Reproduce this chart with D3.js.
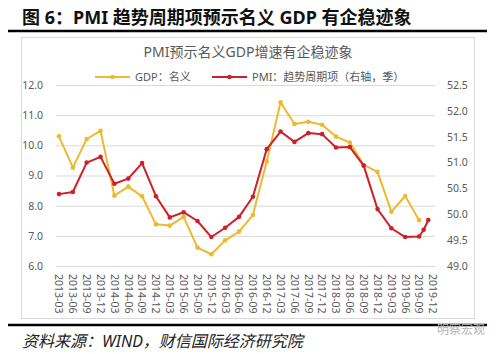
<!DOCTYPE html>
<html>
<head>
<meta charset="utf-8">
<script src="https://cdn.jsdelivr.net/npm/d3@7"></script>
<style>
  body { margin: 0; background: #fff; }
  text { font-family: "Noto Sans", "Noto Sans CJK SC", sans-serif; }
</style>
</head>
<body>
<div id="wrapper"></div>
<script>
// quarter labels on the x axis
const quarters = ["2013-03","2013-06","2013-09","2013-12","2014-03","2014-06","2014-09","2014-12",
  "2015-03","2015-06","2015-09","2015-12","2016-03","2016-06","2016-09","2016-12",
  "2017-03","2017-06","2017-09","2017-12","2018-03","2018-06","2018-09","2018-12",
  "2019-03","2019-06","2019-09","2019-12"] ;

// GDP: nominal growth (left axis), 2013-03 .. 2019-09
const gdpDates = quarters.slice(0, 27) ;
const gdpValues = [10.3, 9.26, 10.21, 10.48, 8.33, 8.63, 8.31, 7.38, 7.34, 7.63, 6.61, 6.39, 6.85, 7.14,
  7.69, 9.46, 11.43, 10.71, 10.78, 10.68, 10.29, 10.09, 9.35, 9.12, 7.80, 8.32, 7.52] ;

// PMI trend-cycle term (right axis), quarterly then monthly at the end
const pmiDates = quarters.slice(0, 27).concat(["2019-10", "2019-11"]) ;
const pmiValues = [50.39, 50.43, 51.0, 51.11, 50.59, 50.69, 50.99, 50.35, 49.94, 50.04, 49.87, 49.56, 49.74, 49.95,
  50.34, 51.26, 51.60, 51.40, 51.57, 51.55, 51.29, 51.30, 50.94, 50.10, 49.73, 49.56, 49.57, 49.70, 49.89] ;

const leftTicks = [6, 7, 8, 9, 10, 11, 12] ;
const rightTicks = [49, 49.5, 50, 50.5, 51, 51.5, 52, 52.5] ;

const gold = "#EDB92E" ;
const red = "#CF1F28" ;
const grey = "#595959" ;

// month index counted from 2013-03
function monthIndex(s) {
  const [y, m] = s.split("-").map(Number) ;
  return (y - 2013) * 12 + (m - 3) ;
}

const dims = {
  width: 500,
  height: 354,
  plot: { left: 56, right: 435, top: 85, bottom: 266 },
} ;

const svg = d3.select("#wrapper").append("svg")
  .attr("width", dims.width)
  .attr("height", dims.height) ;

// page title and rules
svg.append("text")
  .attr("x", 22).attr("y", 24)
  .attr("font-family", "'Liberation Serif', 'Noto Sans CJK SC', serif")
  .attr("font-weight", "bold")
  .attr("font-size", 18)
  .attr("fill", "#111")
  .text("图 6：PMI 趋势周期项预示名义 GDP 有企稳迹象") ;

svg.append("rect")
  .attr("x", 21.5).attr("y", 37.5)
  .attr("width", 453).attr("height", 281)
  .attr("fill", "none")
  .attr("stroke", "#d9d9d9") ;

[31, 325].forEach(y => {
  svg.append("line")
    .attr("x1", 8).attr("x2", 487)
    .attr("y1", y).attr("y2", y)
    .attr("stroke", "#000")
    .attr("stroke-width", 2.5) ;
}) ;

svg.append("text")
  .attr("x", 22).attr("y", 347)
  .attr("font-family", "'Liberation Serif', 'Noto Sans CJK SC', serif")
  .attr("font-style", "italic")
  .attr("font-size", 16)
  .attr("fill", "#222")
  .text("资料来源：WIND，财信国际经济研究院") ;

svg.append("text")
  .attr("x", 485).attr("y", 334)
  .attr("text-anchor", "end")
  .attr("font-size", 12)
  .attr("fill", "#b5b5b5")
  .text("明察宏观") ;

// chart title
svg.append("text")
  .attr("x", 248).attr("y", 57)
  .attr("text-anchor", "middle")
  .attr("font-family", "'Noto Sans CJK SC', sans-serif")
  .attr("font-size", 14)
  .attr("fill", grey)
  .text("PMI预示名义GDP增速有企稳迹象") ;

// scales
const xScale = d3.scaleLinear()
  .domain([-0.65, 81.45])
  .range([dims.plot.left, dims.plot.right]) ;

const yLeft = d3.scaleLinear()
  .domain([6, 12])
  .range([dims.plot.bottom, dims.plot.top]) ;

const yRight = d3.scaleLinear()
  .domain([49, 52.5])
  .range([dims.plot.bottom, dims.plot.top]) ;

// gridlines (left axis)
const leftAxis = svg.append("g")
  .attr("transform", `translate(${dims.plot.left},0)`)
  .call(d3.axisLeft(yLeft).tickValues(leftTicks).tickFormat(d3.format(".1f"))
    .tickSize(-(dims.plot.right - dims.plot.left)).tickPadding(13)) ;
leftAxis.select(".domain").remove() ;
leftAxis.selectAll("line").attr("stroke", "#d9d9d9") ;
leftAxis.selectAll("text")
  .attr("fill", grey)
  .attr("font-size", 10.5) ;

const rightAxis = svg.append("g")
  .attr("transform", `translate(${dims.plot.right},0)`)
  .call(d3.axisRight(yRight).tickValues(rightTicks).tickFormat(d3.format(".1f"))
    .tickSize(0).tickPadding(12)) ;
rightAxis.select(".domain").remove() ;
rightAxis.selectAll("text")
  .attr("fill", grey)
  .attr("font-size", 10.5) ;

// x axis, rotated labels
const xAxis = svg.append("g")
  .attr("transform", `translate(0,${dims.plot.bottom})`)
  .call(d3.axisBottom(xScale).tickValues(quarters.map(monthIndex))
    .tickFormat((d, i) => quarters[i]).tickSize(0)) ;
xAxis.select(".domain").attr("stroke", "#d9d9d9") ;
xAxis.selectAll("text")
  .attr("fill", grey)
  .attr("font-size", 10.5)
  .attr("text-anchor", "start")
  .attr("dy", "0.35em")
  .attr("transform", d => `translate(${xScale(d)},8) rotate(90) translate(${-xScale(d)},0)`)
  .attr("x", d => xScale(d))
  .attr("y", 0) ;
xAxis.selectAll(".tick").attr("transform", null) ;

// series
function drawSeries(dates, values, yScale, colour) {
  const pts = dates.map((d, i) => [xScale(monthIndex(d)), yScale(values[i])]) ;
  const g = svg.append("g") ;
  g.append("path")
    .attr("d", d3.line()(pts))
    .attr("fill", "none")
    .attr("stroke", colour)
    .attr("stroke-width", 2)
    .attr("stroke-linejoin", "round") ;
  g.selectAll("circle")
    .data(pts)
    .enter().append("circle")
      .attr("cx", d => d[0])
      .attr("cy", d => d[1])
      .attr("r", 2.3)
      .attr("fill", colour) ;
}

drawSeries(gdpDates, gdpValues, yLeft, gold) ;
drawSeries(pmiDates, pmiValues, yRight, red) ;

// legend
const legend = [
  {label: "GDP：名义", colour: gold, x: 95},
  {label: "PMI：趋势周期项（右轴，季）", colour: red, x: 212},
] ;
legend.forEach(d => {
  const g = svg.append("g").attr("transform", `translate(${d.x},77)`) ;
  g.append("line").attr("x1", 0).attr("x2", 35).attr("stroke", d.colour).attr("stroke-width", 2) ;
  g.append("circle").attr("cx", 17.5).attr("r", 2.3).attr("fill", d.colour) ;
  g.append("text")
    .attr("x", 40).attr("dy", "0.35em")
    .attr("font-family", "'Noto Sans CJK SC', sans-serif")
    .attr("font-size", 11)
    .attr("fill", grey)
    .text(d.label) ;
}) ;
</script>
</body>
</html>
